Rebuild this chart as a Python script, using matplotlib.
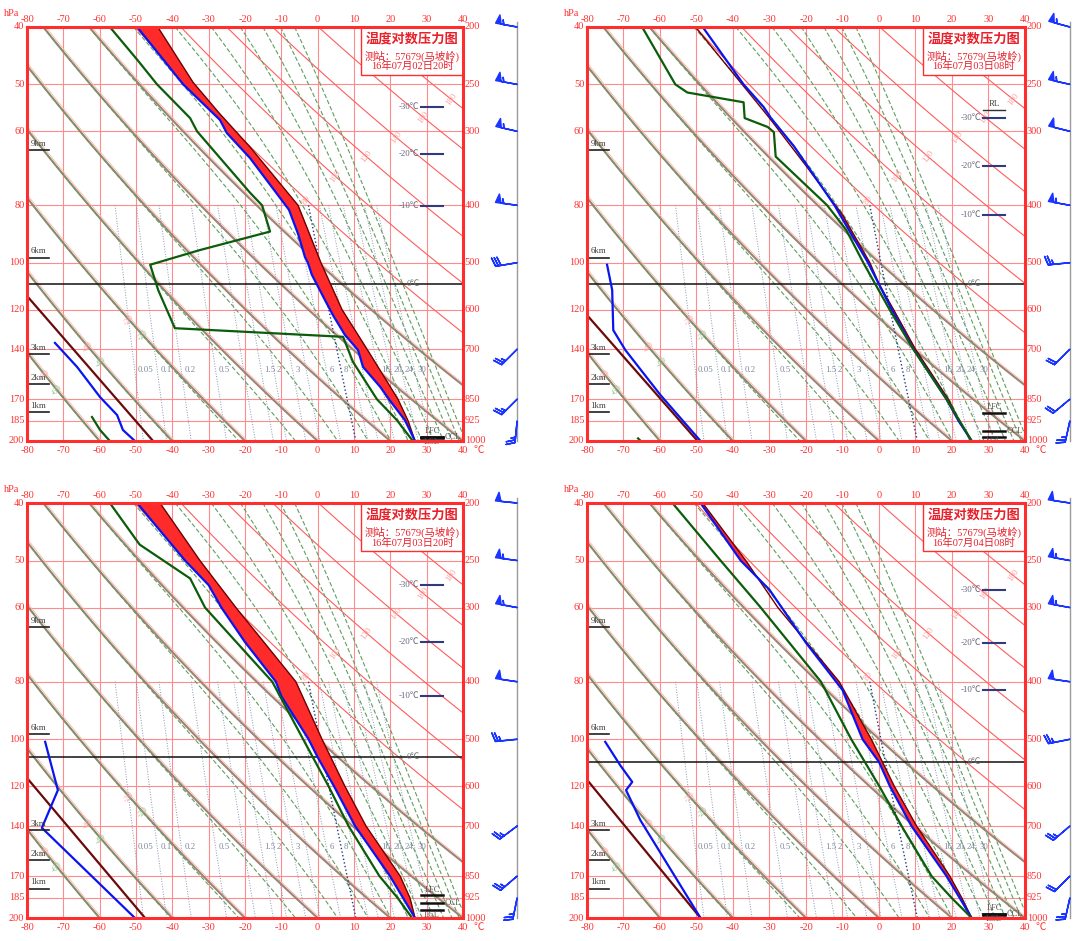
import numpy as np
import matplotlib.pyplot as plt
from matplotlib.patches import Rectangle

plt.rcParams['font.family'] = ['Liberation Serif', 'Noto Sans CJK SC', 'DejaVu Sans']

# ---------------- data ----------------
STATION = '测站：57679(马坡岭)'
TIMES = ['16年07月02日20时', '16年07月03日08时', '16年07月03日20时', '16年07月04日08时']

T_TICKS = [-80, -70, -60, -50, -40, -30, -20, -10, 0, 10, 20, 30, 40]
P_LEVELS = [200, 250, 300, 400, 500, 600, 700, 850, 925, 1000]
P_LEFT_LABELS = ['40', '50', '60', '80', '100', '120', '140', '170', '185', '200']

HEIGHT_LABELS = ['9km', '6km', '3km', '2km', '1km']
HEIGHT_P = [323, 490, 712, 800, 892]

DRY_THETA_LOW = [-80, -60, -40, -20, 0, 20, 40, 60]
DRY_THETA_HIGH = [80, 100, 120, 140, 160, 180, 200, 220]
MOIST_THSE = [-60, -40, -20, 0, 20, 40, 60, 80, 100, 120, 140, 160, 180, 200]
MIX_RATIO = [0.05, 0.1, 0.2, 0.5, 1, 1.5, 2, 3, 4, 6, 8, 10, 12, 16, 20, 24, 30]
MIX_LABELS = [0.05, 0.1, 0.2, 0.5, 1.5, 2, 3, 6, 8, 16, 20, 24, 30]
DRY_LABEL_THETA = [80, 100, 120, 140, 160, 180]
DRY_LABEL_P = [392, 358, 331, 307, 284, 265]
LOW_LABEL_THETA = [-60, -40, -20]
LOW_LABEL_P = [774, 694, 625]

WIND_P = [200, 250, 300, 400, 500, 700, 850, 925]

# panel 1 : 02日20时
P1_TEMP_P = [200, 248, 280, 319, 400, 500, 600, 700, 850, 925, 1000]
P1_TEMP = [-44, -34.3, -27, -18.6, -5.4, 0.9, 6.7, 13.6, 22.1, 24.9, 26.8]
P1_PARCEL_P = [200, 250, 287, 302, 333, 407, 447, 489, 500, 524, 578, 613, 662, 702,
               750, 810, 850, 922, 1000]
P1_PARCEL = [-49.7, -37, -26.9, -25, -18.6, -7.9, -5.4, -3.5, -2.7, -1.6, 2, 4.2, 7.5,
             11.1, 12.5, 17.2, 19.6, 24, 26.8]
P1_DEW_P = [200, 227, 250, 285, 300, 381, 400, 443, 476, 504, 556, 645, 667, 735, 850,
            922, 1000]
P1_DEW = [-57.2, -49.7, -44.2, -35.1, -33.2, -18.6, -15.3, -13.1, -32.4, -46.1, -43.9,
          -39.3, 7.0, 9.7, 16.3, 21.8, 26.2]
P1_LOW_BLUE_P = [683, 750, 843, 904, 958, 1000]
P1_LOW_BLUE = [-72.3, -66.2, -59.9, -55.2, -53.6, -50.3]
P1_LOW_RED_P = [569, 1000]
P1_LOW_RED = [-80, -45.3]
P1_LOW_GREEN_P = [911, 958, 1000]
P1_LOW_GREEN = [-62.1, -59.9, -57.2]
P1_ISO_T = [-30, -20, -10]
P1_ISO_P = [273, 328, 401]
P1_ZERO_P = 543
P1_LFC, P1_CCL, P1_LCL = 983, 983, 987
P1_U = [22, 22, 22, 22, 12, 7, 7, 1]
P1_V = [-4, -4, -5, -3, 2, 7, 7, 10]

# panel 2 : 03日08时
P2_TEMP_P = [200, 250, 285, 343, 415, 500, 543, 600, 700, 850, 925, 1000]
P2_TEMP = [-50.3, -37.5, -30, -20, -10, -2.5, 0, 4, 10, 19, 22, 25.4]
P2_PARCEL_P = [200, 250, 273, 285, 318, 400, 500, 600, 700, 850, 925, 1000]
P2_PARCEL = [-48.3, -37.1, -31.6, -29.6, -23.3, -12.2, -3, 3.5, 9.5, 18.5, 21.8, 25.4]
P2_DEW_P = [200, 250, 258, 268, 285, 295, 301, 331, 400, 440, 500, 600, 700, 850, 1000]
P2_DEW = [-64.9, -55.8, -52.5, -37.1, -36.8, -30.5, -28.8, -28.3, -14.2, -9, -4.3, 2.9,
          9.4, 18.5, 25.4]
P2_LOW_BLUE_P = [504, 556, 650, 702, 836, 1000]
P2_LOW_BLUE = [-74.5, -73.1, -72.8, -69.5, -59.9, -48.9]
P2_LOW_RED_P = [613, 1000]
P2_LOW_RED = [-80, -49.7]
P2_LOW_GREEN_P = [990, 1000]
P2_LOW_GREEN = [-66, -65.3]
P2_ISO_T = [-30, -20, -10]
P2_ISO_P = [285, 343, 415]
P2_ZERO_P = 543
P2_LFC, P2_CCL, P2_LCL = 897, 961, 983
P2_U = [22, 22, 20, 22, 10, 6, 6, 2]
P2_V = [-6, -5, -5, -4, 1, 6, 5, 9]

# panel 3 : 03日20时
P3_TEMP_P = [200, 250, 300, 400, 500, 600, 700, 850, 925, 1000]
P3_TEMP = [-43.4, -32.4, -22.5, -6, 1.2, 7.5, 13.3, 22.7, 25.4, 26.8]
P3_PARCEL_P = [200, 250, 275, 300, 343, 400, 423, 500, 536, 600, 700, 850, 925, 1000]
P3_PARCEL = [-49.7, -36.5, -30, -26.5, -20, -11.5, -10, -2.5, 0, 4.5, 10.3, 19.9, 23.5,
             26.8]
P3_DEW_P = [200, 235, 268, 300, 400, 500, 600, 700, 850, 925, 1000]
P3_DEW = [-57.2, -49, -35.1, -31, -12.5, -4, 3, 8.5, 17, 22, 26]
P3_LOW_BLUE_P = [505, 609, 705, 1000]
P3_LOW_BLUE = [-75, -71.5, -75.9, -50.3]
P3_LOW_RED_P = [581, 1000]
P3_LOW_RED = [-80, -47.5]
P3_LOW_GREEN_P = []
P3_LOW_GREEN = []
P3_ISO_T = [-30, -20, -10]
P3_ISO_P = [275, 343, 423]
P3_ZERO_P = 536
P3_LFC, P3_CCL, P3_LCL = 915, 943, 969
P3_U = [20, 22, 22, 20, 10, 8, 7, 2]
P3_V = [-2, -3, -4, -3, 1, 6, 6, 10]

# panel 4 : 04日08时
P4_TEMP_P = [200, 250, 300, 400, 500, 600, 700, 850, 925, 1000]
P4_TEMP = [-48.3, -36.5, -27.7, -10.9, -2.1, 4.2, 10.3, 19.4, 22.7, 25.4]
P4_PARCEL_P = [200, 250, 280, 344, 413, 500, 546, 600, 700, 850, 925, 1000]
P4_PARCEL = [-48.9, -37.9, -30, -20, -10, -4.5, 0, 3, 8.9, 18.5, 22.1, 25.4]
P4_DEW_P = [200, 250, 300, 400, 500, 600, 700, 850, 925, 1000]
P4_DEW = [-56.6, -43.4, -32.4, -15.9, -7.6, 0.1, 6.2, 14.4, 19.9, 25.4]
P4_LOW_BLUE_P = [505, 553, 590, 609, 684, 1000]
P4_LOW_BLUE = [-75, -70.9, -67.6, -69.3, -65.4, -48.9]
P4_LOW_RED_P = [585, 1000]
P4_LOW_RED = [-80, -48.9]
P4_LOW_GREEN_P = []
P4_LOW_GREEN = []
P4_ISO_T = [-30, -20, -10]
P4_ISO_P = [280, 344, 413]
P4_ZERO_P = 546
P4_LFC, P4_CCL, P4_LCL = 983, 985, 987
P4_U = [20, 22, 22, 20, 10, 7, 6, 2]
P4_V = [-3, -4, -4, -3, 2, 6, 6, 9]


# ---------------- thermodynamic helpers for the background lines ----------------
def dry_line(theta_c, p):
    return (theta_c + 273.15) * (p / 1000.0) ** 0.286 - 273.15


def sat_mix(t, p):
    es = 6.112 * np.exp(17.67 * t / (t + 243.5))
    return 622.0 * es / (p - es)


def theta_se(t, p):
    tk = t + 273.15
    r = sat_mix(t, p) / 1000.0
    return tk * (1000.0 / p) ** 0.286 * np.exp(2.5e6 * r / (1004.0 * tk)) - 273.15


def moist_line(thse, p):
    grid = np.linspace(-110, 45, 2000)
    return np.array([np.interp(thse, theta_se(grid, pp), grid) for pp in p])


def mix_line(w, p):
    a = np.log(w * p / (622.0 + w) / 6.112)
    return 243.5 * a / (17.67 - a)


GRID_RED = '#ff8c8c'
FRAME_RED = '#ff2d2d'
LABEL_RED = '#ff3030'
SMALL = 6.3


def draw_panel(ax, time_txt, temp_p, temp, parcel_p, parcel, dew_p, dew,
               low_blue_p, low_blue, low_red_p, low_red, low_green_p, low_green,
               iso_t, iso_p, zero_p, lfc, ccl, lcl, u, v, barb_x, extra_rl=False):
    ax.set_yscale('log')
    ax.set_xlim(-80, 40)
    ax.set_ylim(1000, 200)
    ax.set_xticks([])
    ax.set_yticks([])
    ax.minorticks_off()
    for s in ax.spines.values():
        s.set_color(FRAME_RED)
        s.set_linewidth(2.2)
        s.set_zorder(20)

    # grid
    for t in T_TICKS:
        ax.plot([t, t], [200, 1000], color=GRID_RED, lw=0.8, zorder=1)
    for p in P_LEVELS:
        ax.plot([-80, 40], [p, p], color=GRID_RED, lw=0.8, zorder=1)

    pp = np.geomspace(200, 1000, 120)
    # dry adiabats (cold ones overlap moist ones -> brownish)
    for th in DRY_THETA_LOW:
        ax.plot(dry_line(th, pp), pp, color='#9a8474', lw=1.5, zorder=2)
        ax.plot(dry_line(th, pp) + 0.7, pp, color='#ffb4ac', lw=0.6, zorder=2)
    for th in DRY_THETA_HIGH:
        ax.plot(dry_line(th, pp), pp, color='#ff5c5c', lw=0.8, zorder=2)
    # moist adiabats
    for th in MOIST_THSE:
        ax.plot(moist_line(th, pp), pp, color='#5f9f5f', lw=0.8,
                ls=(0, (4, 2)), zorder=2)
    # mixing ratio lines
    pm = np.geomspace(400, 1000, 40)
    for w in MIX_RATIO:
        dark = (w == 8)
        ax.plot(mix_line(w, pm), pm, color='#233a80' if dark else '#8a96b0',
                lw=1.0 if dark else 0.7, ls=':', zorder=2)
    for w in MIX_LABELS:
        ax.text(mix_line(w, 759) + 0.8, 759, '%g' % w, fontsize=SMALL, color='#7c869c',
                ha='left', va='center', zorder=3)
    for th, p in zip(DRY_LABEL_THETA, DRY_LABEL_P):
        ax.text(dry_line(th, p), p, str(th), fontsize=SMALL, color='#ffa0a0',
                rotation=55, ha='center', va='center', zorder=3)
    for th, p in zip(LOW_LABEL_THETA, LOW_LABEL_P):
        ax.text(dry_line(th, p), p, str(th), fontsize=SMALL, color='#ffa0a0',
                rotation=50, ha='center', va='center', zorder=3)
        ax.text(dry_line(th, p * 1.06), p * 1.06, str(th), fontsize=SMALL,
                color='#8fc08f', rotation=50, ha='center', va='center', zorder=3)

    # 0 degree level
    ax.plot([-80, 40], [zero_p, zero_p], color='#111111', lw=1.1, zorder=6)
    ax.text(28, zero_p, '0℃', fontsize=SMALL, color='#707070', ha='right',
            va='center', zorder=7)

    # sounding
    pg = np.geomspace(200, 1000, 400)
    t_i = np.interp(np.log(pg), np.log(temp_p), temp)
    c_i = np.interp(np.log(pg), np.log(parcel_p), parcel)
    ax.fill_betweenx(pg, c_i, t_i, where=t_i > c_i, color='#ff2a2a', lw=0,
                     zorder=7, interpolate=True)
    ax.plot(temp, temp_p, color='#6e0000', lw=1.0, zorder=8)
    ax.plot(parcel, parcel_p, color='#0a14f0', lw=1.6, zorder=9)
    ax.plot(dew, dew_p, color='#0b5d0b', lw=1.6, zorder=9)
    ax.plot(low_red, low_red_p, color='#6b0a0a', lw=1.6, zorder=9)
    ax.plot(low_blue, low_blue_p, color='#0a14f0', lw=1.6, zorder=9)
    if low_green:
        ax.plot(low_green, low_green_p, color='#0b5d0b', lw=1.6, zorder=9)

    # isotherm level markers
    for t, p in zip(iso_t, iso_p):
        ax.plot([28.5, 34.5], [p, p], color='#303a80', lw=1.5, zorder=10)
        ax.text(28.0, p, '%d℃' % t, fontsize=SMALL, color='#60607a', ha='right',
                va='center', zorder=10)
    if extra_rl:
        ax.plot([28.5, 34.5], [276, 276], color='#303030', lw=1.0, zorder=10)
        ax.text(31.5, 274, 'RL', fontsize=SMALL, color='#404040', ha='center',
                va='bottom', zorder=10)

    # LFC / CCL / LCL
    for p in (lfc, ccl, lcl):
        ax.plot([28.5, 34.5], [p, p], color='#101010', lw=1.8, zorder=10)
    ax.text(31.5, lfc * 0.994, 'LFC', fontsize=6, color='#505050', ha='center',
            va='bottom', zorder=10)
    ax.text(35.0, ccl, 'CCL', fontsize=6, color='#505050', ha='left',
            va='center', zorder=10, clip_on=False)
    ax.text(31.5, lcl * 1.003, 'LCL', fontsize=6, color='#505050', ha='center',
            va='top', zorder=10, clip_on=False)

    # height markers
    for lab, p in zip(HEIGHT_LABELS, HEIGHT_P):
        ax.plot([-80, -74], [p, p], color='#202020', lw=1.2, zorder=10)
        ax.text(-79, p * 0.992, lab, fontsize=SMALL, color='#404040', ha='left',
                va='bottom', zorder=10)

    # tick labels
    for t in T_TICKS:
        ax.text(t, 1.017, str(t), transform=ax.get_xaxis_transform(), fontsize=7.5,
                color=LABEL_RED, ha='center', va='center', clip_on=False)
        ax.text(t, -0.023, str(t), transform=ax.get_xaxis_transform(), fontsize=7.5,
                color=LABEL_RED, ha='center', va='center', clip_on=False)
    ax.text(1.035, -0.023, '℃', transform=ax.transAxes, fontsize=7.5,
            color=LABEL_RED, ha='center', va='center')
    for p, lab in zip(P_LEVELS, P_LEFT_LABELS):
        ax.text(-0.006, p, lab, transform=ax.get_yaxis_transform(), fontsize=7.5,
                color=LABEL_RED, ha='right', va='center', clip_on=False)
        ax.text(1.004, p, str(p), transform=ax.get_yaxis_transform(), fontsize=7.5,
                color=LABEL_RED, ha='left', va='center', clip_on=False)
    ax.text(-0.036, 1.032, 'hPa', transform=ax.transAxes, fontsize=7.5,
            color=LABEL_RED, ha='center', va='center')

    # title box
    ax.add_patch(Rectangle((0.766, 0.884), 0.234, 0.116, transform=ax.transAxes,
                           facecolor='white', edgecolor=FRAME_RED, lw=1.0, zorder=15))
    ax.text(0.883, 0.970, '温度对数压力图', transform=ax.transAxes, fontsize=9.5,
            color='#e8202a', ha='center', va='center', zorder=16, fontweight='bold')
    ax.text(0.883, 0.930, STATION, transform=ax.transAxes, fontsize=7.5,
            color='#e8202a', ha='center', va='center', zorder=16)
    ax.text(0.883, 0.905, time_txt, transform=ax.transAxes, fontsize=7.5,
            color='#e8202a', ha='center', va='center', zorder=16)

    # wind barbs column
    ax.plot([barb_x, barb_x], [196, 1000], color='#9a9a9a', lw=1.0, clip_on=False,
            zorder=5)
    ax.barbs(np.full(len(WIND_P), barb_x), WIND_P, u, v, length=5.6,
             barbcolor='#1a35ff', flagcolor='#1a35ff', linewidth=1.1,
             barb_increments=dict(half=2, full=4, flag=20),
             sizes=dict(emptybarb=0.0), clip_on=False, zorder=6)


fig = plt.figure(figsize=(10.73, 9.41), dpi=100)
ax1 = fig.add_axes([0.02516, 0.53135, 0.40634, 0.43996])
ax2 = fig.add_axes([0.54706, 0.53135, 0.40820, 0.43996])
ax3 = fig.add_axes([0.02516, 0.02444, 0.40634, 0.44102])
ax4 = fig.add_axes([0.54706, 0.02444, 0.40820, 0.44102])

draw_panel(ax1, TIMES[0], P1_TEMP_P, P1_TEMP, P1_PARCEL_P, P1_PARCEL, P1_DEW_P, P1_DEW,
           P1_LOW_BLUE_P, P1_LOW_BLUE, P1_LOW_RED_P, P1_LOW_RED, P1_LOW_GREEN_P,
           P1_LOW_GREEN, P1_ISO_T, P1_ISO_P, P1_ZERO_P, P1_LFC, P1_CCL, P1_LCL,
           P1_U, P1_V, 54.9)
draw_panel(ax2, TIMES[1], P2_TEMP_P, P2_TEMP, P2_PARCEL_P, P2_PARCEL, P2_DEW_P, P2_DEW,
           P2_LOW_BLUE_P, P2_LOW_BLUE, P2_LOW_RED_P, P2_LOW_RED, P2_LOW_GREEN_P,
           P2_LOW_GREEN, P2_ISO_T, P2_ISO_P, P2_ZERO_P, P2_LFC, P2_CCL, P2_LCL,
           P2_U, P2_V, 52.3, extra_rl=True)
draw_panel(ax3, TIMES[2], P3_TEMP_P, P3_TEMP, P3_PARCEL_P, P3_PARCEL, P3_DEW_P, P3_DEW,
           P3_LOW_BLUE_P, P3_LOW_BLUE, P3_LOW_RED_P, P3_LOW_RED, P3_LOW_GREEN_P,
           P3_LOW_GREEN, P3_ISO_T, P3_ISO_P, P3_ZERO_P, P3_LFC, P3_CCL, P3_LCL,
           P3_U, P3_V, 54.9)
draw_panel(ax4, TIMES[3], P4_TEMP_P, P4_TEMP, P4_PARCEL_P, P4_PARCEL, P4_DEW_P, P4_DEW,
           P4_LOW_BLUE_P, P4_LOW_BLUE, P4_LOW_RED_P, P4_LOW_RED, P4_LOW_GREEN_P,
           P4_LOW_GREEN, P4_ISO_T, P4_ISO_P, P4_ZERO_P, P4_LFC, P4_CCL, P4_LCL,
           P4_U, P4_V, 52.3)

fig.savefig('out.png', dpi=100, facecolor='white')
